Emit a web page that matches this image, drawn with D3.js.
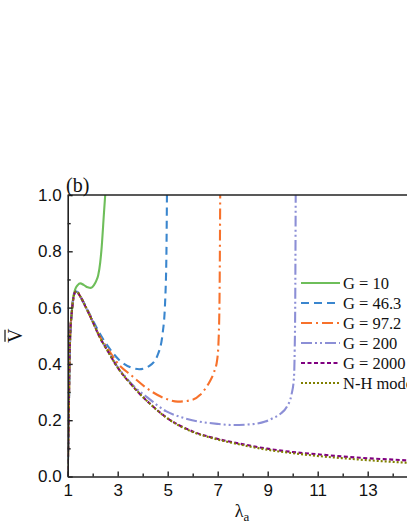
<!DOCTYPE html>
<html>
<head>
<meta charset="utf-8">
<script src="https://cdn.jsdelivr.net/npm/d3@7"></script>
<style>
  html, body { margin: 0; padding: 0; background: #fff; }
  svg { display: block; }
</style>
</head>
<body>
<svg id="chart" width="407" height="527"></svg>
<script>
// ---- data ----
const xTickLabels = [1, 3, 5, 7, 9, 11, 13];
const xMinorTicks = [2, 4, 6, 8, 10, 12, 14];
const yTickLabels = [0, 0.2, 0.4, 0.6, 0.8, 1.0];
const yMinorTicks = [0.1, 0.3, 0.5, 0.7, 0.9];

const seriesNames = ["G = 10", "G = 46.3", "G = 97.2", "G = 200", "G = 2000", "N-H model"];

const g10Lambda = [1.0, 1.02, 1.04, 1.07, 1.1, 1.16, 1.22, 1.3, 1.4, 1.5, 1.65, 1.8, 1.93, 2.05, 2.15, 2.22, 2.3, 2.36, 2.45, 2.5];
const g10V      = [0.0, 0.10, 0.20, 0.40, 0.50, 0.58, 0.635, 0.665, 0.68, 0.686, 0.68, 0.672, 0.67, 0.68, 0.697, 0.715, 0.76, 0.816, 0.935, 1.0];

const g46Lambda = [1.0, 1.02, 1.04, 1.07, 1.1, 1.16, 1.22, 1.3, 1.36, 1.5, 1.73, 2.0, 2.27, 2.67, 3.06, 3.51, 3.86, 4.27, 4.6, 4.8, 4.9, 4.95, 4.97];
const g46V      = [0.0, 0.10, 0.20, 0.40, 0.50, 0.58, 0.63, 0.655, 0.657, 0.64, 0.603, 0.556, 0.51, 0.455, 0.414, 0.388, 0.381, 0.393, 0.432, 0.51, 0.627, 0.8, 1.0];

const g97Lambda = [1.0, 1.02, 1.04, 1.07, 1.1, 1.16, 1.22, 1.3, 1.36, 1.5, 1.73, 2.0, 2.27, 2.6, 2.93, 3.6, 4.27, 4.93, 5.4, 5.98, 6.3, 6.51, 6.7, 6.85, 6.98, 7.05, 7.08, 7.1];
const g97V      = [0.0, 0.10, 0.20, 0.40, 0.50, 0.58, 0.63, 0.655, 0.657, 0.64, 0.602, 0.55, 0.499, 0.455, 0.41, 0.355, 0.307, 0.276, 0.266, 0.272, 0.29, 0.313, 0.34, 0.37, 0.415, 0.52, 0.7, 1.0];

const g200Lambda = [1.0, 1.02, 1.04, 1.07, 1.1, 1.16, 1.22, 1.3, 1.36, 1.5, 1.73, 2.0, 2.27, 2.6, 2.93, 3.3, 3.6, 4.27, 4.93, 5.5, 5.98, 6.98, 7.6, 8.4, 8.9, 9.2, 9.5, 9.78, 9.95, 10.05, 10.08, 10.1, 10.12];
const g200V      = [0.0, 0.10, 0.20, 0.40, 0.50, 0.58, 0.63, 0.655, 0.657, 0.64, 0.6, 0.55, 0.497, 0.448, 0.398, 0.355, 0.325, 0.275, 0.232, 0.212, 0.2, 0.187, 0.183, 0.186, 0.195, 0.207, 0.222, 0.25, 0.29, 0.35, 0.45, 0.6, 1.0];

const g2000Lambda = [1.0, 1.02, 1.04, 1.07, 1.1, 1.16, 1.22, 1.3, 1.36, 1.5, 1.73, 2.0, 2.27, 2.6, 2.93, 3.6, 4.27, 4.93, 5.98, 6.98, 7.98, 8.98, 10, 10.98, 12, 12.98, 14, 15];
const g2000V      = [0.0, 0.10, 0.20, 0.40, 0.50, 0.58, 0.63, 0.655, 0.657, 0.64, 0.6, 0.55, 0.497, 0.446, 0.396, 0.321, 0.26, 0.211, 0.161, 0.134, 0.115, 0.099, 0.087, 0.079, 0.071, 0.065, 0.06, 0.055];

const nhLambda = [1.0, 1.02, 1.04, 1.07, 1.1, 1.16, 1.22, 1.3, 1.36, 1.5, 1.73, 2.0, 2.27, 2.6, 2.93, 3.6, 4.27, 4.93, 5.98, 6.98, 7.98, 8.98, 10, 10.98, 12, 12.98, 14, 15];
const nhV      = [0.0, 0.10, 0.20, 0.40, 0.50, 0.58, 0.63, 0.655, 0.657, 0.64, 0.6, 0.55, 0.497, 0.446, 0.396, 0.321, 0.26, 0.21, 0.159, 0.132, 0.112, 0.095, 0.083, 0.073, 0.065, 0.058, 0.052, 0.046];

// ---- styles ----
const colors = ["#6ebe5a", "#3a86ce", "#f7712b", "#8c8fd6", "#800080", "#808000"];
const dashes = [null, "8,5", "11,4,2,4", "11,3,2,3,2,3", "4,2.5", "2,2"];

const series = [
  [g10Lambda, g10V], [g46Lambda, g46V], [g97Lambda, g97V],
  [g200Lambda, g200V], [g2000Lambda, g2000V], [nhLambda, nhV]
].map(([lx, vy], i) => ({
  name: seriesNames[i], color: colors[i], dash: dashes[i],
  values: lx.map((l, j) => ({ x: l, y: vy[j] }))
}));

// ---- layout ----
const svg = d3.select("#chart");
const pL = 67.7, pR = 417.7, pT = 195, pB = 476.5;

const x = d3.scaleLinear().domain([1, 15]).range([pL, pR]);
const y = d3.scaleLinear().domain([0, 1]).range([pB, pT]);

svg.append("defs").append("clipPath").attr("id", "clip")
  .append("rect").attr("x", pL).attr("y", pT - 1)
  .attr("width", pR - pL).attr("height", pB - pT + 1);

const line = d3.line().x(d => x(d.x)).y(d => y(d.y)).curve(d3.curveMonotoneX);
const plot = svg.append("g").attr("clip-path", "url(#clip)");
series.forEach(s => {
  plot.append("path")
    .datum(s.values)
    .attr("d", line)
    .attr("fill", "none")
    .attr("stroke", s.color)
    .attr("stroke-width", 2.1)
    .attr("stroke-dasharray", s.dash)
    .attr("stroke-linejoin", "round");
});

const axisColor = "#222";
svg.append("line").attr("x1", pL).attr("x2", pR).attr("y1", pT).attr("y2", pT)
  .attr("stroke", axisColor).attr("stroke-width", 1.6);
svg.append("line").attr("x1", pR).attr("x2", pR).attr("y1", pT).attr("y2", pB)
  .attr("stroke", axisColor).attr("stroke-width", 1.6);

const xAxis = svg.append("g").attr("transform", `translate(0,${pB})`)
  .call(d3.axisBottom(x).tickValues(xTickLabels).tickSizeInner(-5).tickSizeOuter(0).tickPadding(10).tickFormat(d3.format("d")));
svg.append("g").attr("transform", `translate(0,${pB})`)
  .call(d3.axisBottom(x).tickValues(xMinorTicks).tickSizeInner(-3).tickSizeOuter(0).tickFormat(""))
  .select(".domain").remove();

const yAxis = svg.append("g").attr("transform", `translate(${pL},0)`)
  .call(d3.axisLeft(y).tickValues(yTickLabels).tickSizeInner(-5).tickSizeOuter(0).tickPadding(10).tickFormat(d3.format(".1f")));
svg.append("g").attr("transform", `translate(${pL},0)`)
  .call(d3.axisLeft(y).tickValues(yMinorTicks).tickSizeInner(-3).tickSizeOuter(0).tickFormat(""))
  .select(".domain").remove();

svg.selectAll(".domain").attr("stroke", axisColor).attr("stroke-width", 1.6);
svg.selectAll(".tick line").attr("stroke", axisColor).attr("stroke-width", 1.4);
svg.selectAll(".tick text")
  .attr("font-family", "'Liberation Sans', Arial, sans-serif")
  .attr("font-size", 17).attr("fill", "#111");
xAxis.selectAll(".tick text").attr("dy", "0.71em").attr("y", 7);
yAxis.selectAll(".tick text").attr("x", -6);

const legendY0 = 283, legendDy = 20;
const legend = svg.append("g");
series.forEach((s, i) => {
  const yy = legendY0 + i * legendDy;
  legend.append("line")
    .attr("x1", 301).attr("x2", 340).attr("y1", yy).attr("y2", yy)
    .attr("stroke", s.color).attr("stroke-width", 2.1)
    .attr("stroke-dasharray", s.dash);
  legend.append("text")
    .attr("x", 343).attr("y", yy).attr("dy", "0.35em")
    .attr("font-family", "'Liberation Serif', 'Times New Roman', serif")
    .attr("font-size", 16.5).attr("fill", "#111")
    .text(s.name);
});

svg.append("text").attr("x", 66).attr("y", 192)
  .attr("font-family", "'Liberation Serif', 'Times New Roman', serif")
  .attr("font-size", 20).attr("fill", "#111").text("(b)");

const xl = svg.append("text").attr("x", 242).attr("y", 517)
  .attr("text-anchor", "middle")
  .attr("font-family", "'Liberation Serif', 'Times New Roman', serif")
  .attr("font-size", 18).attr("fill", "#111");
xl.append("tspan").text("λ");
xl.append("tspan").attr("font-size", 13).attr("dy", 4).text("a");

const yl = svg.append("g").attr("transform", `translate(22,${(pT + pB) / 2}) rotate(-90)`);
yl.append("text").attr("x", 0).attr("y", 0).attr("text-anchor", "middle")
  .attr("font-family", "'Liberation Serif', 'Times New Roman', serif")
  .attr("font-size", 20).attr("fill", "#111").text("V");
yl.append("line").attr("x1", -6).attr("x2", 6).attr("y1", -17).attr("y2", -17)
  .attr("stroke", "#111").attr("stroke-width", 1.2);
</script>
</body>
</html>
